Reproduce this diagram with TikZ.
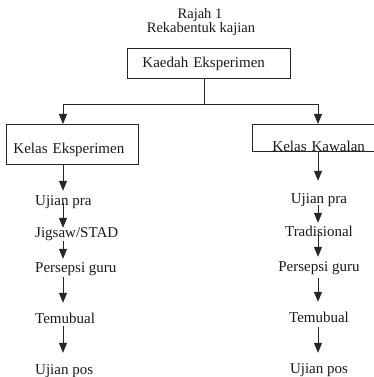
\documentclass[tikz,border=0pt]{standalone}
\usepackage{fontspec}
\setmainfont{Liberation Serif}
\usetikzlibrary{arrows.meta}

\begin{document}
\begin{tikzpicture}[x=1pt,y=-1pt,
  every node/.style={font=\fontsize{15}{17}\selectfont, text=black!90},
  boxnode/.style={draw=black!85, line width=0.9pt, inner ysep=0pt, align=left},
  item/.style={inner sep=0pt, text height=10pt, text depth=3pt},
  link/.style={draw=black!85, line width=0.8pt},
  arr/.style={link, -{Triangle[width=8pt,length=10pt]}}
]
\useasboundingbox (0,0) rectangle (374,377);
\clip (0,0) rectangle (374,377);

% heading
\node[anchor=base, font=\fontsize{14.5}{16}\selectfont] (title) at (200,19) {Rajah 1};
\node[anchor=base, font=\fontsize{14.5}{16}\selectfont] (subtitle) at (201,33) {Rekabentuk kajian};

% top box
\node[boxnode, anchor=north west, inner xsep=15pt, text width=133pt,
      text height=19pt, text depth=11pt] (kaedah) at (127,48) {Kaedah Eksperimen};

% second level boxes
\node[boxnode, anchor=north west, inner xsep=7pt, text width=118pt,
      text height=29pt, text depth=11pt] (eksp) at (6,124) {Kelas Eksperimen};
\node[boxnode, anchor=north west, inner xsep=20pt, text width=128pt,
      text height=27pt, text depth=0pt] (kawalan) at (252,124) {Kelas Kawalan};

% column positions
\coordinate (split) at (204,104);
\coordinate (colL) at (63,0);
\coordinate (colR) at (318,0);

% left column steps
\node[item, anchor=base west] (l1) at (35,205) {Ujian pra};
\node[item, anchor=base west] (l2) at (35,237) {Jigsaw/STAD};
\node[item, anchor=base west] (l3) at (35,272) {Persepsi guru};
\node[item, anchor=base west] (l4) at (35,323) {Temubual};
\node[item, anchor=base west] (l5) at (35,374) {Ujian pos};

% right column steps
\node[item, anchor=base] (r1) at (319,203) {Ujian pra};
\node[item, anchor=base] (r2) at (319,236) {Tradisional};
\node[item, anchor=base] (r3) at (319,271) {Persepsi guru};
\node[item, anchor=base] (r4) at (319,322) {Temubual};
\node[item, anchor=base] (r5) at (319,373) {Ujian pos};

% branching
\draw[link] (kaedah.south -| split) -- (split);
\draw[arr] (split) -| (colL |- eksp.north);
\draw[arr] (split) -| (colR |- kawalan.north);

% left column arrows
\draw[arr] (colL |- eksp.south) -- ([yshift=4pt]colL |- l1.north);
\draw[arr] ([yshift=5pt]colL |- l1.south) -- ([yshift=-1pt]colL |- l2.north);
\draw[arr] ([yshift=-1pt]colL |- l2.south) -- ([yshift=3pt]colL |- l3.north);
\draw[arr] ([yshift=-2pt]colL |- l3.south) -- ([yshift=10pt]colL |- l4.north);
\draw[arr] (colL |- l4.south) -- ([yshift=11pt]colL |- l5.north);

% right column arrows
\draw[arr] (colR |- kawalan.south) -- ([yshift=12pt]colR |- r1.north);
\draw[arr] ([yshift=1pt]colR |- r1.south) -- ([yshift=3pt]colR |- r2.north);
\draw[arr] ([yshift=6pt]colR |- r2.south) -- ([yshift=4pt]colR |- r3.north);
\draw[arr] ([yshift=-4pt]colR |- r3.south) -- ([yshift=10pt]colR |- r4.north);
\draw[arr] ([yshift=-2pt]colR |- r4.south) -- ([yshift=10pt]colR |- r5.north);
\end{tikzpicture}
\end{document}
